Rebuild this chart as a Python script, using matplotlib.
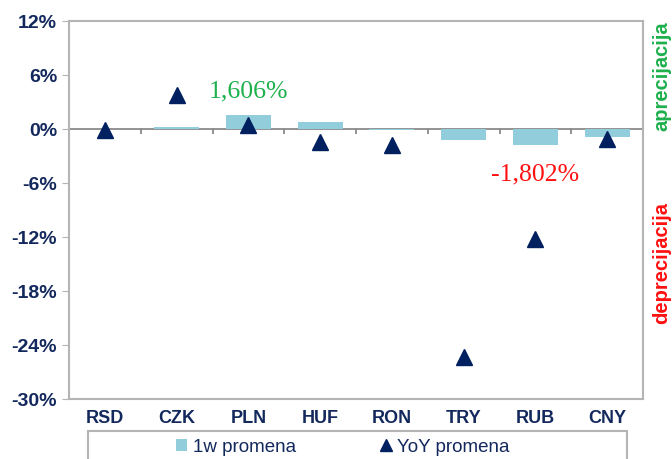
import matplotlib

matplotlib.use('Agg')

import matplotlib.pyplot as plt
import numpy as np
from matplotlib.lines import Line2D
from matplotlib.patches import Patch, Rectangle

currencies = ['RSD', 'CZK', 'PLN', 'HUF', 'RON', 'TRY', 'RUB', 'CNY']
week_change = [0.0, 0.25, 1.606, 0.78, -0.06, -1.22, -1.802, -0.85]
yoy_change = [-0.1, 3.8, 0.45, -1.45, -1.8, -25.3, -12.2, -1.1]
y_ticks = [12, 6, 0, -6, -12, -18, -24, -30]

navy = '#13285C'
bar_blue = '#92CDDC'
tri_blue = '#002060'
grid_gray = '#B4B4B4'

plt.rcParams['font.family'] = ['Liberation Sans', 'DejaVu Sans']

fig = plt.figure(figsize=(6.72, 4.59), dpi=100)
ax = fig.add_axes([69 / 672, 1 - 399 / 459, 574 / 672, 378 / 459])

x = np.arange(len(currencies))
ax.bar(x, week_change, width=0.63, color=bar_blue, zorder=2)
ax.plot(x, yoy_change, linestyle='none', marker='^', markersize=12,
        color=tri_blue, zorder=3)

# zero line with category separators
ax.axhline(0, color='#808080', linewidth=1.2, zorder=1)
ax.vlines(x[:-1] + 0.5, -0.5, 0, color='#808080', linewidth=1.2, zorder=1)

ax.set_xlim(-0.5, len(currencies) - 0.5)
ax.set_ylim(-30, 12)
ax.set_yticks(y_ticks)
ax.set_yticklabels([f'{t}%' for t in y_ticks])
ax.set_xticks(x)
ax.set_xticklabels(currencies)
ax.tick_params(axis='y', direction='out', length=5, color=grid_gray,
               labelsize=14, labelcolor=navy, pad=3.5)
ax.tick_params(axis='x', length=0, labelsize=13, labelcolor=navy, pad=8)
for lab in ax.get_xticklabels() + ax.get_yticklabels():
    lab.set_fontweight('bold')
for sp in ax.spines.values():
    sp.set_color(grid_gray)
    sp.set_linewidth(1.5)

ax.text(2, 4.2, '1,606%', color='#1DB04B', fontsize=18.5,
        family=['Liberation Serif'], ha='center', va='center')
ax.text(6, -5.1, '-1,802%', color='#FF1010', fontsize=18.5,
        family=['Liberation Serif'], ha='center', va='center')

fig.text(662 / 672, 1 - 76 / 459, 'aprecijacija', color='#1DB04B',
         fontsize=14.5, fontweight='bold', rotation=90, ha='center', va='center')
fig.text(662 / 672, 1 - 263 / 459, 'deprecijacija', color='#FF1010',
         fontsize=14.5, fontweight='bold', rotation=90, ha='center', va='center')

# legend frame (cut off by the bottom edge like the original)
fig.add_artist(Rectangle((88 / 672, -0.05), 539 / 672, 0.05 + 28 / 459,
                         transform=fig.transFigure, facecolor='none',
                         edgecolor=grid_gray, linewidth=1.5))
handles = [Patch(facecolor=bar_blue, edgecolor='none'),
           Line2D([], [], linestyle='none', marker='^', markersize=8, color=tri_blue)]
leg = fig.legend(handles, ['1w promena', 'YoY promena'], ncol=2,
                 loc='center', bbox_to_anchor=(343 / 672, 1 - 447 / 459),
                 fontsize=13.5, frameon=False,
                 handlelength=0.6, handleheight=0.6, handletextpad=0.3,
                 columnspacing=4.5, labelcolor=navy)

fig.savefig('out.png', dpi=100)
